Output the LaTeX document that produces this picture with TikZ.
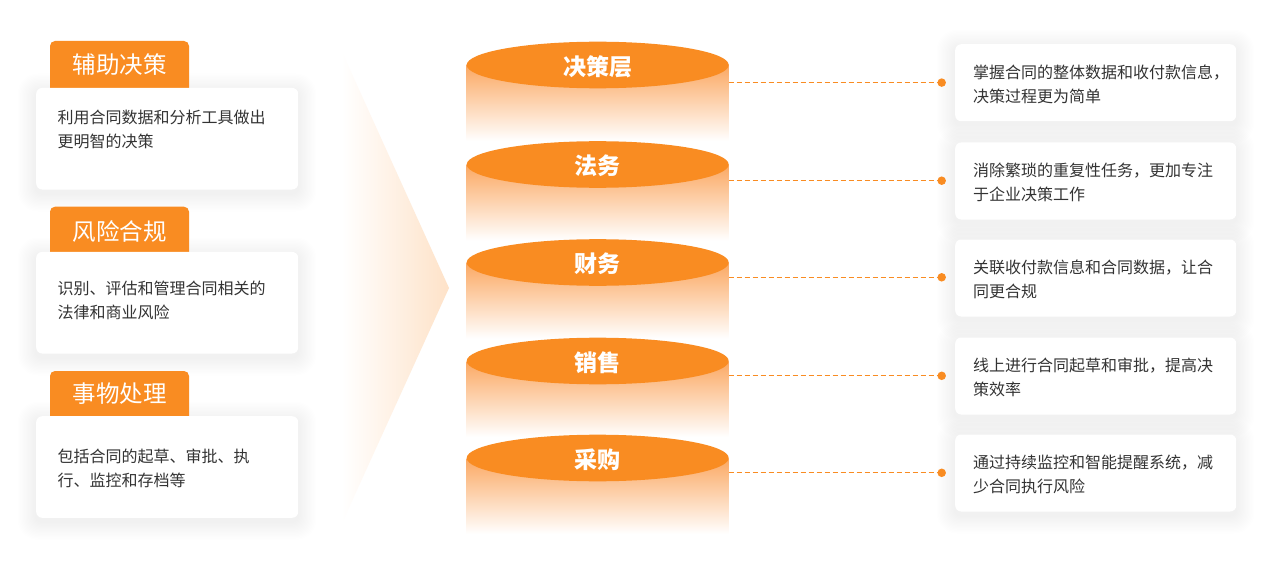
\documentclass[tikz,border=0pt]{standalone}
\usepackage{fontspec}
\setmainfont{Noto Sans CJK SC}
\usetikzlibrary{shapes.geometric}
\definecolor{brand}{HTML}{F98C22}
\definecolor{bodytop}{HTML}{FBA862}
\definecolor{tri}{HTML}{FEE2C8}
\definecolor{txt}{HTML}{333333}
\newcommand\myshadow[4]{%
  \foreach \k in {1,...,14}{%
    \fill[black, opacity=0.0055, rounded corners=6+\k]
      (#1-\k*1.3, #2-\k*1.3+4) rectangle (#3+\k*1.3, #4+\k*1.3+4);}}
\begin{document}
\begin{tikzpicture}[x=1pt,y=-1pt,
  tagshape/.style={fill=brand, rounded corners=5pt},
  tagtext/.style={text=white, font=\fontsize{23.5}{26}\selectfont, inner sep=0pt},
  cardbox/.style={draw=none, fill=white, rounded corners=6pt, inner sep=0pt, anchor=north west},
  cardtext/.style={text=txt, font=\fontsize{16}{23.5}\selectfont, align=left, inner sep=0pt, anchor=west},
  rtext/.style={text=txt, font=\fontsize{16}{24}\selectfont, align=left, inner sep=0pt, anchor=west},
  lid/.style={ellipse, fill=brand, minimum width=262pt, minimum height=46.6pt, inner sep=0pt},
  lidtext/.style={text=white, font=\fontsize{23}{26}\selectfont\bfseries, inner sep=0pt},
  dotnode/.style={circle, fill=brand, minimum size=8.5pt, inner sep=0pt},
  dashline/.style={draw=brand, line width=1.2pt, dash pattern=on 5pt off 3pt}
]
\useasboundingbox (0,0) rectangle (1272,575);
\fill[white] (0,0) rectangle (1272,575);

% funnel triangle
\shade[left color=white, right color=tri] (342,52) -- (449,288) -- (342,523) -- cycle;

% ---------- left column ----------
\myshadow{36}{87.7}{298}{189.3}
\myshadow{36}{251.7}{298}{353.3}
\myshadow{36}{416}{298}{517.6}

\fill[tagshape] (50,95) -- (50,41) -- (189,41) -- (189,95) -- cycle;
\fill[tagshape] (50,260) -- (50,206.7) -- (189,206.7) -- (189,260) -- cycle;
\fill[tagshape] (50,425) -- (50,371) -- (189,371) -- (189,425) -- cycle;

\node[cardbox, minimum width=262pt, minimum height=101.6pt] (lc1) at (36,87.7) {};
\node[cardbox, minimum width=262pt, minimum height=101.6pt] (lc2) at (36,251.7) {};
\node[cardbox, minimum width=262pt, minimum height=101.6pt] (lc3) at (36,416) {};

\node[tagtext] (lt1) at (119.5,65) {辅助决策};
\node[tagtext] (lt2) at (119.5,231) {风险合规};
\node[tagtext] (lt3) at (119.5,393.3) {事物处理};

\node[cardtext] (lx1) at (57.5,129.5) {利用合同数据和分析工具做出\\更明智的决策};
\node[cardtext] (lx2) at (57.5,300.5) {识别、评估和管理合同相关的\\法律和商业风险};
\node[cardtext] (lx3) at (57.5,468.5) {包括合同的起草、审批、执\\行、监控和存档等};

% ---------- cylinders ----------
\foreach \c/\n/\t in {65/1/决策层, 164.5/2/法务, 262.5/3/财务, 361/4/销售, 458/5/采购}{
  \shade[top color=bodytop, bottom color=white] (466.7,\c) rectangle (728.7,\c+76);
  \node[lid] (cy\n) at (597.7,\c) {};
  \node[lidtext] (cl\n) at (597.7,\c+1.5) {\t};
}

% ---------- right column ----------
\foreach \y/\n in {44/1, 142.3/2, 239.3/3, 337.3/4, 434.3/5}{
  \myshadow{955}{\y}{1236}{\y+77}
  \node[cardbox, minimum width=281pt, minimum height=77pt] (rc\n) at (955,\y) {};
}
\node[rtext] (rx1) at (973,84) {掌握合同的整体数据和收付款信息，\\决策过程更为简单};
\node[rtext] (rx2) at (973,182.3) {消除繁琐的重复性任务，更加专注\\于企业决策工作};
\node[rtext] (rx3) at (973,279.3) {关联收付款信息和合同数据，让合\\同更合规};
\node[rtext] (rx4) at (973,377.3) {线上进行合同起草和审批，提高决\\策效率};
\node[rtext] (rx5) at (973,474.3) {通过持续监控和智能提醒系统，减\\少合同执行风险};

% ---------- connectors ----------
\foreach \y/\n in {82.6/1, 180.7/2, 277.3/3, 375.8/4, 472.8/5}{
  \coordinate (s\n) at (728.7,\y);
  \node[dotnode] (d\n) at (941.7,\y) {};
  \draw[dashline] (s\n) -- (d\n.west);
}
\end{tikzpicture}
\end{document}
